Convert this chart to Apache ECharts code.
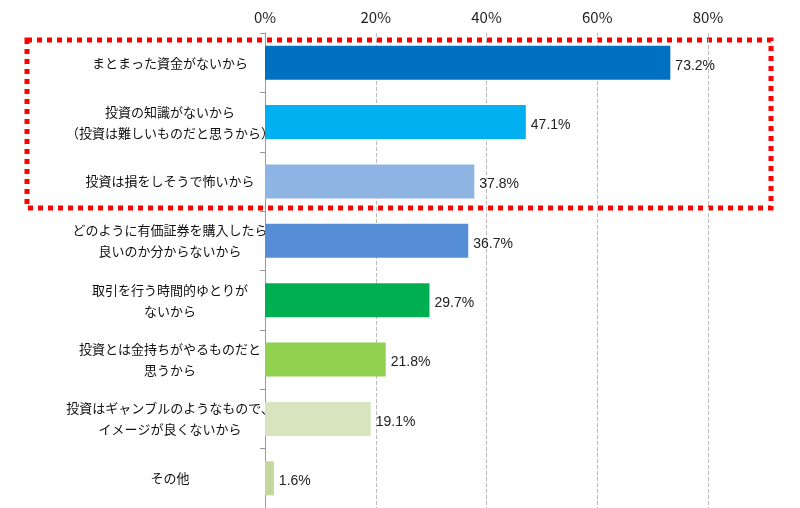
<!DOCTYPE html><html><head><meta charset="utf-8"><script src="https://cdn.jsdelivr.net/npm/echarts@6/dist/echarts.min.js"></script></head><body style="margin:0"><div id="c" style="width:800px;height:508px"></div><script>
const categories=["まとまった資金がないから","投資の知識がないから\n（投資は難しいものだと思うから）","投資は損をしそうで怖いから","どのように有価証券を購入したら\n良いのか分からないから","取引を行う時間的ゆとりが\nないから","投資とは金持ちがやるものだと\n思うから","投資はギャンブルのようなもので、\nイメージが良くないから","その他"];
const values=[73.2,47.1,37.8,36.7,29.7,21.8,19.1,1.6];
const colors=["#0070C0","#00B0F0","#8EB4E3","#558ED5","#00B050","#92D050","#D7E4BD","#C3D69B"];
const ticks=[0,20,40,60,80];
const ch=echarts.init(document.getElementById('c'));
ch.setOption({animation:false,
grid:{left:265,right:92,top:33,height:483},
xAxis:{type:'value',position:'top',min:0,max:80,interval:20,
 axisLabel:{formatter:v=>ticks.includes(v)?v+'%':'',fontSize:15,color:'#222',fontFamily:'Noto Sans CJK JP'},
 axisLine:{show:false},axisTick:{show:false},splitLine:{lineStyle:{type:'dashed',color:'#bbb'}}},
yAxis:{type:'category',inverse:true,data:categories,
 axisLine:{lineStyle:{color:'#999'}},axisTick:{show:true,lineStyle:{color:'#999'}},
 axisLabel:{fontSize:13,color:'#111',lineHeight:21,align:'center',margin:95,fontFamily:'Noto Sans CJK JP'}},
series:[{type:'bar',barWidth:34,data:values.map((v,i)=>({value:v,itemStyle:{color:colors[i]}})),
 label:{show:true,position:'right',offset:[0,3],formatter:p=>p.value.toFixed(1)+'%',fontSize:14,color:'#222'}}],
graphic:[{type:'rect',shape:{x:27,y:40,width:744,height:168},style:{fill:'none',stroke:'#FF0000',lineWidth:5,lineDash:[5,5]}}]
});
</script></body></html>
